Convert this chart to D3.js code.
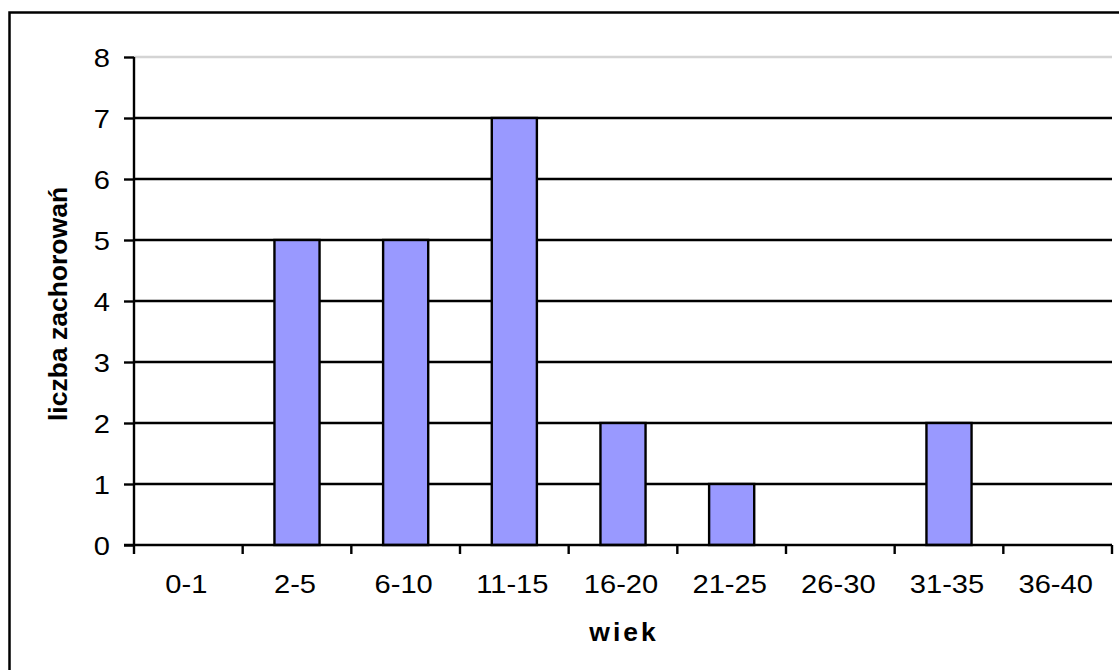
<!DOCTYPE html>
<html>
<head>
<meta charset="utf-8">
<script src="https://cdn.jsdelivr.net/npm/d3@7"></script>
<style>
  html, body { margin: 0; padding: 0; background: #fff; }
  svg { display: block; font-family: Arial, "Liberation Sans", sans-serif; }
</style>
</head>
<body>
<svg id="chart" width="1119" height="670"></svg>
<script>
// Age groups and number of cases
const categories = ["0-1", "2-5", "6-10", "11-15", "16-20", "21-25", "26-30", "31-35", "36-40"];
const cases = [0, 5, 5, 7, 2, 1, 0, 2, 0];
const yTicks = [0, 1, 2, 3, 4, 5, 6, 7, 8];
const xTitle = "wiek";
const yTitle = "liczba zachorowań";

const svg = d3.select("#chart");
const labelSize = 26;
const labelStretch = 1.12;   // tick labels are drawn slightly wide

// Chart frame (runs off the right and bottom edges)
svg.append("rect")
  .attr("x", 9.5).attr("y", 12.5)
  .attr("width", 1200).attr("height", 700)
  .attr("fill", "#fff").attr("stroke", "#000").attr("stroke-width", 2.5);

const plot = { left: 134, right: 1112, top: 57, bottom: 545 };

const x = d3.scaleBand().domain(categories).range([plot.left, plot.right]).padding(0);
const y = d3.scaleLinear().domain([0, 8]).range([plot.bottom, plot.top]);

// Horizontal gridlines
svg.append("g").selectAll("line")
  .data(yTicks.filter(d => d > 0))
  .join("line")
  .attr("x1", plot.left).attr("x2", plot.right)
  .attr("y1", d => y(d)).attr("y2", d => y(d))
  .attr("stroke", d => d === 8 ? "#d4d4d4" : "#000")
  .attr("stroke-width", 2.4);

// Bars
const barW = x.bandwidth() * 0.415;
svg.append("g").selectAll("rect")
  .data(categories.map((c, i) => ({ c, v: cases[i] })).filter(d => d.v > 0))
  .join("rect")
  .attr("x", d => x(d.c) + (x.bandwidth() - barW) / 2)
  .attr("y", d => y(d.v))
  .attr("width", barW)
  .attr("height", d => y(0) - y(d.v))
  .attr("fill", "#9999FF")
  .attr("stroke", "#000")
  .attr("stroke-width", 2.4);

// Y axis
const yAxis = svg.append("g")
  .attr("transform", `translate(${plot.left},0)`)
  .call(d3.axisLeft(y).tickValues(yTicks).tickFormat(d3.format("d")).tickSize(10).tickPadding(14));
yAxis.select(".domain").attr("stroke", "#000").attr("stroke-width", 2.4)
  .attr("d", `M0,${plot.top}V${plot.bottom}`);
yAxis.selectAll(".tick line").attr("stroke", "#000").attr("stroke-width", 2.4);
yAxis.selectAll(".tick text")
  .attr("font-size", labelSize).attr("fill", "#000")
  .attr("font-family", "Arial, 'Liberation Sans', sans-serif")
  .attr("x", null).attr("dy", "0.36em")
  .attr("transform", `translate(-24,0) scale(${labelStretch},1)`);

// X axis: baseline, boundary ticks, centred category labels
const xAxis = svg.append("g");
xAxis.append("line")
  .attr("x1", plot.left - 10).attr("x2", plot.right)
  .attr("y1", y(0)).attr("y2", y(0))
  .attr("stroke", "#000").attr("stroke-width", 2.4);
const boundaries = categories.map(c => x(c)).concat([x.range()[1]]);
xAxis.selectAll("line.tick")
  .data(boundaries)
  .join("line")
  .attr("class", "tick")
  .attr("x1", d => d).attr("x2", d => d)
  .attr("y1", y(0)).attr("y2", y(0) + 9)
  .attr("stroke", "#000").attr("stroke-width", 2.4);
xAxis.selectAll("text")
  .data(categories)
  .join("text")
  .attr("transform", d => `translate(${x(d) + x.bandwidth() / 2 - 2},593) scale(${labelStretch},1)`)
  .attr("text-anchor", "middle")
  .attr("font-size", labelSize)
  .attr("fill", "#000")
  .text(d => d);

// Axis titles
svg.append("text")
  .attr("x", 624).attr("y", 641)
  .attr("text-anchor", "middle")
  .attr("font-size", 26.5)
  .attr("font-weight", "bold")
  .attr("letter-spacing", 3)
  .text(xTitle);

svg.append("text")
  .attr("transform", `translate(67,${(plot.top + plot.bottom) / 2 + 3}) rotate(-90)`)
  .attr("text-anchor", "middle")
  .attr("font-size", 26.5)
  .attr("font-weight", "bold")
  .text(yTitle);
</script>
</body>
</html>
